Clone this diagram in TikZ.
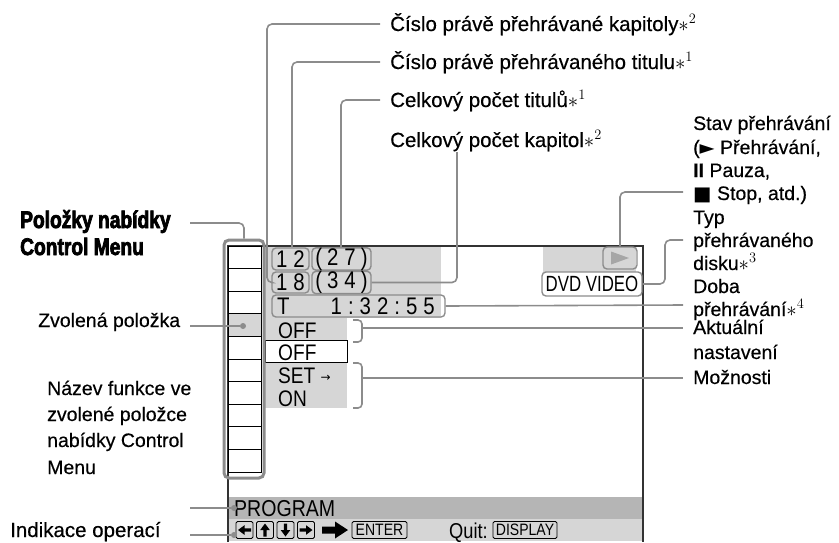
\documentclass[tikz,border=0pt]{standalone}
\usepackage{fontspec}
\usetikzlibrary{arrows.meta}
\setmainfont[FakeBold=0.4]{Liberation Sans}
\newfontfamily\condfont[FakeStretch=0.8,FakeBold=3]{Liberation Sans}
\newfontfamily\scrfontfam[FakeStretch=0.85]{Liberation Sans}
\newfontfamily\symfont{DejaVu Sans}
\definecolor{leadc}{gray}{0.55}
\definecolor{scrgray}{gray}{0.84}
\definecolor{bargray}{gray}{0.71}
\definecolor{scrline}{gray}{0.2}
\newcommand{\lblfont}{\fontsize{19.5}{24}\selectfont}
\newcommand{\toplblfont}{\fontsize{20.5}{24}\selectfont}
\newcommand{\scrtxt}{\scrfontfam\fontsize{22.5}{24}\selectfont}
\newcommand{\scrdig}{\scrfontfam\fontsize{24}{24}\selectfont}
\newcommand{\scrsmall}{\scrfontfam\fontsize{16.5}{18}\selectfont}
\newcommand{\gp}{\hspace{6pt}}
\begin{document}
\begin{tikzpicture}[x=1pt,y=-1pt,
  lead/.style={draw=leadc, line width=1.6pt, rounded corners=5pt},
  lbl/.style={anchor=base west, inner sep=0pt, font=\lblfont},
  toplbl/.style={anchor=base west, inner sep=0pt, font=\toplblfont},
  rbox/.style={draw=leadc, line width=1.4pt, rounded corners=4pt, inner sep=0pt, font=\scrdig},
  scr/.style={inner sep=0pt, font=\scrtxt},
  key/.style={draw=black, line width=0.8pt, rounded corners=1.5pt, inner sep=0pt, minimum width=17, minimum height=17},
  navarr/.pic={\fill (-6.5,-1.6) -- (0,-1.6) -- (0,-4.8) -- (6.5,0) -- (0,4.8) -- (0,1.6) -- (-6.5,1.6) -- cycle;},
  dotc/.style={circle, fill=leadc, inner sep=0pt, minimum size=6}
]
\useasboundingbox (0,0) rectangle (839,542);

% ---------- screen fills ----------
\fill[scrgray] (265,246) rectangle (441,318);
\fill[scrgray] (265,318) rectangle (347,408);
\fill[scrgray] (543,246) rectangle (636,272);
\fill[bargray] (228,497) rectangle (643,519);
\fill[scrgray] (228,519) rectangle (643,541);
\node[draw=black, line width=0.8pt, fill=white, minimum width=82, minimum height=22, inner sep=0pt] (offbox) at (306,351) {};
\draw[line width=1.6pt, scrline] (228,542) -- (228,246) -- (643,246) -- (643,542);

% ---------- menu column ----------
\fill[scrgray] (228,313.8) rectangle (261,336.4);
\foreach \i in {0,...,9} {\draw[line width=0.9pt] (228,{246+22.6*\i}) rectangle (261,{246+22.6*(\i+1)});}
\node[draw=leadc, line width=3pt, rounded corners=5pt, minimum width=40, minimum height=238, inner sep=0pt] (menu) at (244,359) {};
\node[dotc] (dsel) at (243,326) {};

% ---------- screen items ----------
\node[rbox, minimum width=37, minimum height=22] (b12) at (290.5,259) {1\gp 2};
\node[rbox, minimum width=59, minimum height=22] (b27) at (341.5,259) {(\hspace{5pt}2\gp 7\hspace{5pt})};
\node[rbox, minimum width=37, minimum height=21] (b18) at (290.5,282.5) {1\gp 8};
\node[rbox, minimum width=59, minimum height=21] (b34) at (341.5,282.5) {(\hspace{5pt}3\gp 4\hspace{5pt})};
\node[rbox, minimum width=173, minimum height=22] (bT) at (358.5,306) {};
\node[inner sep=0pt, font=\scrdig, anchor=west] (tT) at (277,306.5) {T};
\node[inner sep=0pt, font=\scrdig, anchor=east] (ttime) at (435,306.5) {1\gp:\gp 3\gp 2\gp:\gp 5\gp 5};
\node[rbox, minimum width=34, minimum height=22] (bplay) at (620,258) {};
\fill[gray!70] (611,251.5) -- (611,264.5) -- (629,258) -- cycle;
\node[rbox, minimum width=100, minimum height=24, font=\scrfontfam\fontsize{22}{24}\selectfont] (bdvd) at (592,284) {\scalebox{0.9}[1]{DVD VIDEO}};

\node[scr, anchor=base west] (off1) at (278,338) {OFF};
\node[scr, anchor=base west] (off2) at (278,360.5) {OFF};
\node[scr, anchor=base west] (set) at (278,383.5) {SET {\symfont\fontsize{12}{12}\selectfont\raisebox{2pt}{→}}};
\node[scr, anchor=base west] (on) at (278,406) {ON};

% braces
\draw[leadc, line width=1.6pt, rounded corners=4pt] (353,320) -- (362,320) -- (362,342) -- (353,342);
\coordinate (br1) at (362,328);
\draw[leadc, line width=1.6pt, rounded corners=4pt] (353,363) -- (362,363) -- (362,408) -- (353,408);
\coordinate (br2) at (362,378);

% bottom bars
\node[anchor=base west, inner sep=0pt, font=\scrfontfam\fontsize{23}{24}\selectfont] (prog) at (234,516.5) {PROGRAM};
\node[key] (kl) at (244.5,530) {};
\node[key] (ku) at (265,530) {};
\node[key] (kd) at (285.5,530) {};
\node[key] (kr) at (306,530) {};
\pic[rotate=180] at (kl) {navarr};
\pic[rotate=90] at (ku) {navarr};
\pic[rotate=-90] at (kd) {navarr};
\pic at (kr) {navarr};
\fill (322,526.5) -- (335,526.5) -- (335,521.5) -- (348,530) -- (335,538.5) -- (335,533.5) -- (322,533.5) -- cycle;
\node[key, minimum width=55, font=\scrsmall] (kenter) at (379.5,530) {ENTER};
\node[anchor=base west, inner sep=0pt, font=\scrfontfam\fontsize{21.5}{24}\selectfont] (quit) at (449,538) {Quit:};
\node[key, minimum width=64, font=\scrsmall] (kdisp) at (525,530) {DISPLAY};

% ---------- labels top ----------
\node[toplbl] (t1) at (390,31) {Číslo právě přehrávané kapitoly\(\ast^{2}\)};
\node[toplbl] (t2) at (390,69) {Číslo právě přehrávaného titulu\(\ast^{1}\)};
\node[toplbl] (t3) at (390,107) {Celkový počet titulů\(\ast^{1}\)};
\node[toplbl] (t4) at (390,147) {Celkový počet kapitol\(\ast^{2}\)};

% ---------- labels right ----------
\node[lbl] (s1) at (693,130) {Stav přehrávání};
\node[lbl] (s2) at (693,154) {({\symfont ►} Přehrávání,};
\node[lbl] (s3) at (693,177) {\textbf{II} Pauza,};
\node[lbl] (s4) at (693,200) {{\symfont ■} Stop, atd.)};
\node[lbl] (d1) at (693,224) {Typ};
\node[lbl] (d2) at (693,247) {přehrávaného};
\node[lbl] (d3) at (693,270) {disku\(\ast^{3}\)};
\node[lbl] (p1) at (693,293) {Doba};
\node[lbl] (p2) at (693,316) {přehrávání\(\ast^{4}\)};
\node[lbl] (a1) at (693,334) {Aktuální};
\node[lbl] (a2) at (693,359) {nastavení};
\node[lbl] (m1) at (693,384) {Možnosti};

% ---------- labels left ----------
\node[anchor=base west, inner sep=0pt, font=\condfont\bfseries\fontsize{24}{27}\selectfont] (pol1) at (20,228) {Položky nabídky};
\node[anchor=base west, inner sep=0pt, font=\condfont\bfseries\fontsize{24}{27}\selectfont] (pol2) at (20,255) {Control Menu};
\node[lbl] (zv) at (38,327) {Zvolená položka};
\node[lbl] (n1) at (47,395) {Název funkce ve};
\node[lbl] (n2) at (47,421) {zvolené položce};
\node[lbl] (n3) at (47,447) {nabídky Control};
\node[lbl] (n4) at (47,474) {Menu};
\node[anchor=base west, inner sep=0pt, font=\fontsize{20.5}{24}\selectfont] (ind) at (10,537) {Indikace operací};

% ---------- leaders ----------
\coordinate (e1) at (380,24);
\coordinate (e2) at (380,62);
\coordinate (e3) at (380,100);
\coordinate (e4) at (457,152);
\coordinate (e5) at (683,192);
\coordinate (e6) at (683,240);
\coordinate (e7) at (683,305);
\coordinate (e8) at (683,328);
\coordinate (e9) at (683,378);
\coordinate (f1) at (190,223);
\coordinate (f2) at (190,326);
\coordinate (f3) at (190,508);
\coordinate (f4) at (190,535);
\node[dotc] (dprog) at (234,508) {};
\node[dotc] (dnav) at (234,535) {};

\draw[lead] (e1) -- (267,24) -- (267,282.5) -- (b18.west);
\draw[lead] (e2) -- (292,62) -- (b12.north -| 292,0);
\draw[lead] (e3) -- (341,100) -- (b27.north -| 341,0);
\draw[lead] (e4) -- (457,282.5) -- (b34.east);
\draw[lead] (e5) -- (620,192) -- (bplay.north);
\draw[lead] (e6) -- (665,240) -- (665,284) -- (bdvd.east);
\draw[lead] (bT.east) -- (e7);
\draw[lead] (br1) -- (e8);
\draw[lead] (br2) -- (e9);
\draw[lead] (f1) -- (244,223) -- (menu.north);
\draw[lead] (f2) -- (dsel);
\draw[lead] (f3) -- (dprog);
\draw[lead] (f4) -- (dnav);
\end{tikzpicture}
\end{document}
